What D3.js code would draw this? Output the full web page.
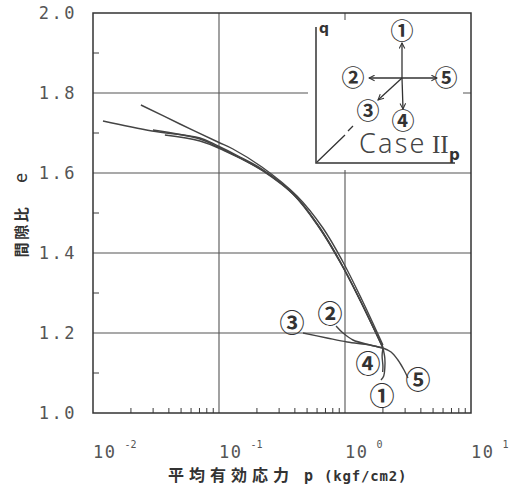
<!DOCTYPE html>
<html><head><meta charset="utf-8">
<script src="https://cdn.jsdelivr.net/npm/d3@7/dist/d3.min.js"></script>
<style>
html,body{margin:0;padding:0;background:#fff;}
svg{display:block;}
</style></head>
<body>
<svg id="chart" width="511" height="486"></svg>
<script>
// ---- data ----
const yTicks = [1.0, 1.2, 1.4, 1.6, 1.8, 2.0];
const yMinor = [1.1, 1.3, 1.5, 1.7, 1.9];
const xTicks = [0.01, 0.1, 1, 10];
const xTickExp = ["-2", "-1", "0", "1"];
const xGrid = [0.1, 1];
const yGrid = [1.2, 1.4, 1.6, 1.8];

// consolidation curves [p (kgf/cm2), e]
const curve1 = [[0.0120,1.730],[0.0294,1.705],[0.0706,1.6875],[0.0982,1.6675],[0.147,1.64],[0.219,1.61],[0.386,1.55],[0.600,1.4725],[0.912,1.3775],[1.315,1.2825],[2.00,1.1625]];
const curve2 = [[0.0240,1.77],[0.0490,1.7225],[0.098,1.6775],[0.129,1.66],[0.219,1.615],[0.416,1.5425],[0.668,1.4625],[0.964,1.3775],[1.365,1.2825],[2.00,1.17]];
const curve3 = [[0.0299,1.7075],[0.0706,1.685],[0.098,1.665],[0.147,1.6375],[0.223,1.605],[0.401,1.5425],[0.634,1.4625],[0.946,1.37],[1.34,1.2775],[2.00,1.165]];
const curve4 = [[0.0372,1.695],[0.0706,1.68],[0.1116,1.655],[0.219,1.6075],[0.386,1.5475],[0.611,1.4675],[0.929,1.375],[2.00,1.1625]];
// stress-path branches after p = 2.0
const branch1 = [[2.00,1.1625],[2.07,1.1375],[2.07,1.1125],[2.03,1.0925],[1.93,1.0825]];
const branch2 = [[2.00,1.1625],[1.58,1.17],[1.157,1.1825],[0.964,1.20],[0.849,1.2175]];
const branch3 = [[2.00,1.1625],[1.58,1.17],[1.04,1.1775],[0.719,1.1875],[0.464,1.20]];
const branch4 = [[2.00,1.1625],[1.97,1.1425],[2.00,1.1175],[1.99,1.1025]];
const branch5 = [[2.00,1.1625],[2.32,1.1525],[2.63,1.1325],[2.94,1.1075],[3.16,1.0875]];
const series = [curve1, curve2, curve3, curve4, branch1, branch2, branch3, branch4, branch5];
const branchLabels = ["①","②","③","④","⑤"];
const labelPos = [[1.97,1.0425],[0.760,1.2475],[0.379,1.225],[1.52,1.1225],[3.80,1.0825]];

// ---- drawing ----
const svg = d3.select("#chart");
const L = 93, R = 471, T = 13, B = 413;
const x = d3.scaleLog().domain([0.01, 10]).range([L, R]);
const y = d3.scaleLinear().domain([1.0, 2.0]).range([B, T]);
const ink = "#3a3a3a";

// grid
svg.append("g").selectAll("line").data(yGrid).join("line")
  .attr("x1", L).attr("x2", R).attr("y1", d => y(d)).attr("y2", d => y(d))
  .attr("stroke", "#555").attr("stroke-width", 1.1);
svg.append("g").selectAll("line").data(xGrid).join("line")
  .attr("y1", T).attr("y2", B).attr("x1", d => x(d)).attr("x2", d => x(d))
  .attr("stroke", "#555").attr("stroke-width", 1.1);

// minor ticks
const minors = [];
[0.01, 0.1, 1].forEach(d => { for (let k = 2; k <= 9; k++) minors.push(k * d); });
svg.append("g").selectAll("line").data(minors).join("line")
  .attr("x1", d => x(d)).attr("x2", d => x(d)).attr("y1", B).attr("y2", B - 5)
  .attr("stroke", ink).attr("stroke-width", 1);
svg.append("g").selectAll("line").data(yMinor).join("line")
  .attr("x1", L).attr("x2", L + 6).attr("y1", d => y(d)).attr("y2", d => y(d))
  .attr("stroke", ink).attr("stroke-width", 1);

// frame
svg.append("rect").attr("x", L).attr("y", T).attr("width", R - L).attr("height", B - T)
  .attr("fill", "none").attr("stroke", "#333").attr("stroke-width", 1.5);

// y tick labels
svg.append("g").selectAll("text").data(yTicks).join("text")
  .attr("x", 77).attr("y", d => y(d)).attr("dy", "0.36em")
  .attr("text-anchor", "end")
  .attr("font-family", "DejaVu Sans Mono").attr("font-size", 17)
  .attr("letter-spacing", 2.5).attr("fill", "#555")
  .text(d => d3.format(".1f")(d));

// x tick labels
const xt = svg.append("g").selectAll("text").data(xTicks).join("text")
  .attr("x", d => x(d)).attr("y", 458)
  .attr("font-family", "DejaVu Sans Mono").attr("font-size", 17)
  .attr("fill", "#555");
xt.append("tspan").attr("letter-spacing", 1.5).text("10");
xt.append("tspan").attr("font-size", 10).attr("dx", 8).attr("dy", -10).text((d, i) => xTickExp[i]);

// axis titles
const xl = svg.append("text").attr("x", 168).attr("y", 481).attr("fill", "#333");
xl.append("tspan").attr("font-family", "Noto Sans CJK JP").attr("font-weight", 700)
  .attr("font-size", 16).attr("letter-spacing", 5).text("平均有効応力");
xl.append("tspan").attr("font-family", "DejaVu Sans Mono").attr("font-weight", 700)
  .attr("font-size", 15).attr("dx", 10).text("p");
xl.append("tspan").attr("font-family", "DejaVu Sans Mono").attr("font-weight", 700)
  .attr("font-size", 14).attr("dx", 11).attr("letter-spacing", 0.8).text("(kgf/cm2)");

const yl = svg.append("text").attr("transform", "translate(27,215) rotate(-90)")
  .attr("text-anchor", "middle").attr("fill", "#333");
yl.append("tspan").attr("font-family", "Noto Sans CJK JP").attr("font-weight", 700)
  .attr("font-size", 15).attr("letter-spacing", 2.5).text("間隙比");
yl.append("tspan").attr("font-family", "DejaVu Sans Mono").attr("font-size", 17)
  .attr("dx", 22).text("e");

// curves
const line = d3.line().x(d => x(d[0])).y(d => y(d[1])).curve(d3.curveCatmullRom.alpha(0.5));
svg.append("g").selectAll("path").data(series).join("path")
  .attr("d", line).attr("fill", "none").attr("stroke", "#444").attr("stroke-width", 1.4);

// branch labels
svg.append("g").selectAll("text").data(branchLabels).join("text")
  .attr("x", (d, i) => x(labelPos[i][0])).attr("y", (d, i) => y(labelPos[i][1]))
  .attr("dy", "0.36em").attr("text-anchor", "middle")
  .attr("font-family", "Noto Sans CJK JP").attr("font-weight", 700).attr("font-size", 25)
  .attr("fill", "#333").text(d => d);

// ---- inset (schematic) ----
const inset = svg.append("g");
inset.append("rect").attr("x", 308).attr("y", 20).attr("width", 155).attr("height", 150).attr("fill", "#fff");
const defs = svg.append("defs");
defs.append("marker").attr("id", "arr").attr("viewBox", "0 0 10 10")
  .attr("refX", 9).attr("refY", 5).attr("markerWidth", 7).attr("markerHeight", 7)
  .attr("markerUnits", "userSpaceOnUse").attr("orient", "auto")
  .append("path").attr("d", "M1,1 L9,5 L1,9").attr("fill", "none").attr("stroke", "#333").attr("stroke-width", 1.5);
inset.append("path").attr("d", "M316,27 L316,163 L455,163").attr("fill", "none")
  .attr("stroke", "#333").attr("stroke-width", 1.5);
inset.append("path").attr("d", "M317,162 L345,135 M348,131 L353,126").attr("fill", "none")
  .attr("stroke", "#333").attr("stroke-width", 1.3);
const cx = 402, cy = 78;
const arrows = [[402,43],[369,78],[437,78],[403,109],[378,100]];
inset.selectAll("line.arr").data(arrows).join("line")
  .attr("x1", cx).attr("y1", cy).attr("x2", d => d[0]).attr("y2", d => d[1])
  .attr("stroke", "#333").attr("stroke-width", 1.3).attr("marker-end", "url(#arr)");
const insetLabels = [["①",402,31],["②",353,78],["③",368,111],["④",403,121],["⑤",446,78]];
inset.selectAll("text.il").data(insetLabels).join("text")
  .attr("x", d => d[1]).attr("y", d => d[2]).attr("dy", "0.36em").attr("text-anchor", "middle")
  .attr("font-family", "Noto Sans CJK JP").attr("font-weight", 700).attr("font-size", 23)
  .attr("fill", "#333").text(d => d[0]);
inset.append("text").attr("x", 319).attr("y", 33).attr("font-family", "DejaVu Sans")
  .attr("font-weight", 700).attr("font-size", 14).attr("fill", "#333").text("q");
inset.append("text").attr("x", 359).attr("y", 153).attr("font-family", "Noto Sans")
  .attr("font-weight", 300).attr("font-size", 27).attr("letter-spacing", 2.2).attr("fill", "#444").text("Case");
inset.append("text").attr("x", 432).attr("y", 153).attr("font-family", "Liberation Serif")
  .attr("font-size", 25).attr("fill", "#444").text("II");
inset.append("text").attr("x", 449).attr("y", 160).attr("font-family", "DejaVu Sans")
  .attr("font-weight", 700).attr("font-size", 15).attr("fill", "#333").text("p");
</script>
</body></html>
